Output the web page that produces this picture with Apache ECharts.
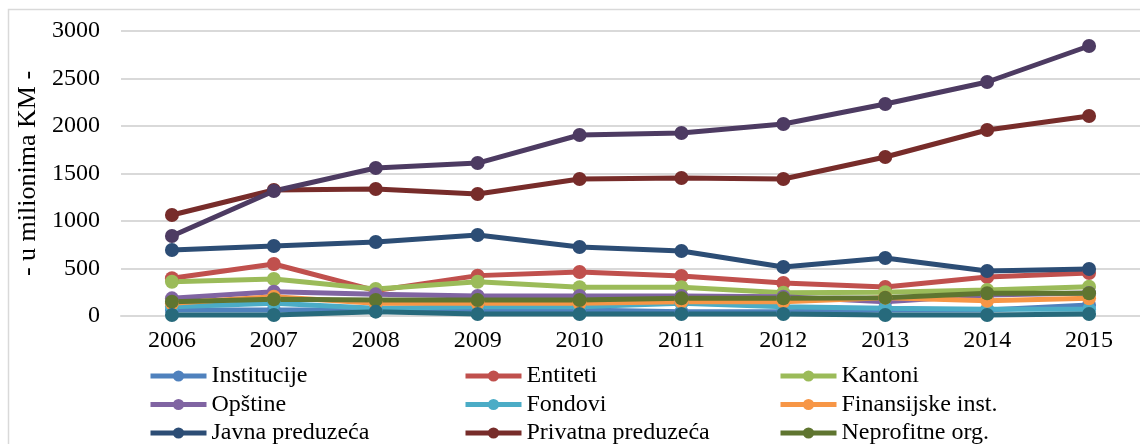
<!DOCTYPE html>
<html>
<head>
<meta charset="utf-8">
<script src="https://cdn.jsdelivr.net/npm/echarts@6/dist/echarts.min.js"></script>
<style>
  html, body { margin: 0; padding: 0; background: #fff; }
  #chart { width: 1140px; height: 444px; }
</style>
</head>
<body>
<div id="chart"></div>
<script>
// Godine
const years = ['2006', '2007', '2008', '2009', '2010', '2011', '2012', '2013', '2014', '2015'];

// Vrijednosti po sektorima, u milionima KM
const institucije       = [63, 63, 63, 63, 63, 46, 46, 63, 63, 116];
const entiteti          = [397, 547, 267, 425, 463, 421, 347, 305, 411, 453];
const kantoni           = [361, 389, 284, 361, 302, 302, 245, 250, 274, 309];
const opstine           = [186, 256, 228, 210, 210, 210, 203, 151, 221, 242];
const fondovi           = [98, 133, 81, 98, 98, 133, 98, 81, 70, 70];
const finansijskeInst   = [133, 203, 133, 133, 133, 151, 151, 193, 161, 186];
const javnaPreduzeca    = [695, 737, 779, 853, 726, 684, 516, 610, 474, 495];
const privatnaPreduzeca = [1063, 1326, 1337, 1284, 1442, 1453, 1442, 1674, 1958, 2105];
const neprofitneOrg     = [151, 176, 168, 168, 168, 186, 186, 193, 239, 239];
const stanovnistvo      = [842, 1316, 1558, 1610, 1905, 1926, 2021, 2232, 2463, 2842];
const ostali            = [10, 10, 46, 21, 21, 21, 21, 10, 10, 21];

// Oznake na y osi
const yTicks = [0, 500, 1000, 1500, 2000, 2500, 3000];

const seriesDefs = [
  { name: 'Institucije',        data: institucije,       color: '#4F81BD' },
  { name: 'Entiteti',           data: entiteti,          color: '#C0504D' },
  { name: 'Kantoni',            data: kantoni,           color: '#9BBB59' },
  { name: 'Opštine',            data: opstine,           color: '#8064A2' },
  { name: 'Fondovi',            data: fondovi,           color: '#4BACC6' },
  { name: 'Finansijske inst.',  data: finansijskeInst,   color: '#F79646' },
  { name: 'Javna preduzeća',    data: javnaPreduzeca,    color: '#2C4D75' },
  { name: 'Privatna preduzeća', data: privatnaPreduzeca, color: '#772C2A' },
  { name: 'Neprofitne org.',    data: neprofitneOrg,     color: '#5F7530' },
  { name: 'Stanovništvo',       data: stanovnistvo,      color: '#4D3B62' },
  { name: 'Ostali',             data: ostali,            color: '#276A7C' }
];

const FONT = '"Liberation Serif", "Times New Roman", serif';

// One legend column (vertical list) per column of the key
const legendCol = (left, names) => ({
  orient: 'vertical',
  left: left,
  top: 364,
  width: 320,
  height: 400,
  itemWidth: 56,
  itemHeight: 14,
  itemGap: 4.5,
  padding: 0,
  data: names,
  lineStyle: { width: 5 },
  textStyle: { fontFamily: FONT, fontSize: 24, color: '#000', lineHeight: 24 },
  selectedMode: false
});

const chart = echarts.init(document.getElementById('chart'), null, { renderer: 'canvas' });

chart.setOption({
  animation: false,
  backgroundColor: '#fff',
  graphic: [{
    type: 'rect',
    shape: { x: 8.5, y: 9.5, width: 1200, height: 500 },
    style: { fill: 'none', stroke: '#d9d9d9', lineWidth: 1.5 },
    silent: true,
    z: -1
  }],
  legend: [
    legendCol(148, ['Institucije', 'Opštine', 'Javna preduzeća', 'Stanovništvo']),
    legendCol(463, ['Entiteti', 'Fondovi', 'Privatna preduzeća', 'Ostali']),
    legendCol(778, ['Kantoni', 'Finansijske inst.', 'Neprofitne org.'])
  ],
  grid: { left: 121, right: 0, top: 31, bottom: 128, containLabel: false },
  xAxis: {
    type: 'category',
    data: years,
    boundaryGap: true,
    axisLine: { show: true, lineStyle: { color: '#d9d9d9', width: 2 } },
    axisTick: { show: false },
    axisLabel: { fontFamily: FONT, fontSize: 24, color: '#000', margin: 13 }
  },
  yAxis: {
    type: 'value',
    min: yTicks[0],
    max: yTicks[yTicks.length - 1],
    interval: yTicks[1] - yTicks[0],
    name: '- u milionima KM -',
    nameLocation: 'middle',
    nameGap: 68,
    nameTextStyle: { fontFamily: FONT, fontSize: 26, color: '#000', verticalAlign: 'middle' },
    axisLine: { show: false },
    axisTick: { show: false },
    axisLabel: { fontFamily: FONT, fontSize: 24, color: '#000', margin: 21, formatter: v => String(v) },
    splitLine: { lineStyle: { color: '#d9d9d9', width: 2 } }
  },
  series: seriesDefs.map(s => ({
    name: s.name,
    type: 'line',
    data: s.data,
    symbol: 'circle',
    symbolSize: 14,
    showSymbol: true,
    color: s.color,
    lineStyle: { width: 5, color: s.color },
    itemStyle: { color: s.color },
    emphasis: { disabled: true }
  }))
});
</script>
</body>
</html>
